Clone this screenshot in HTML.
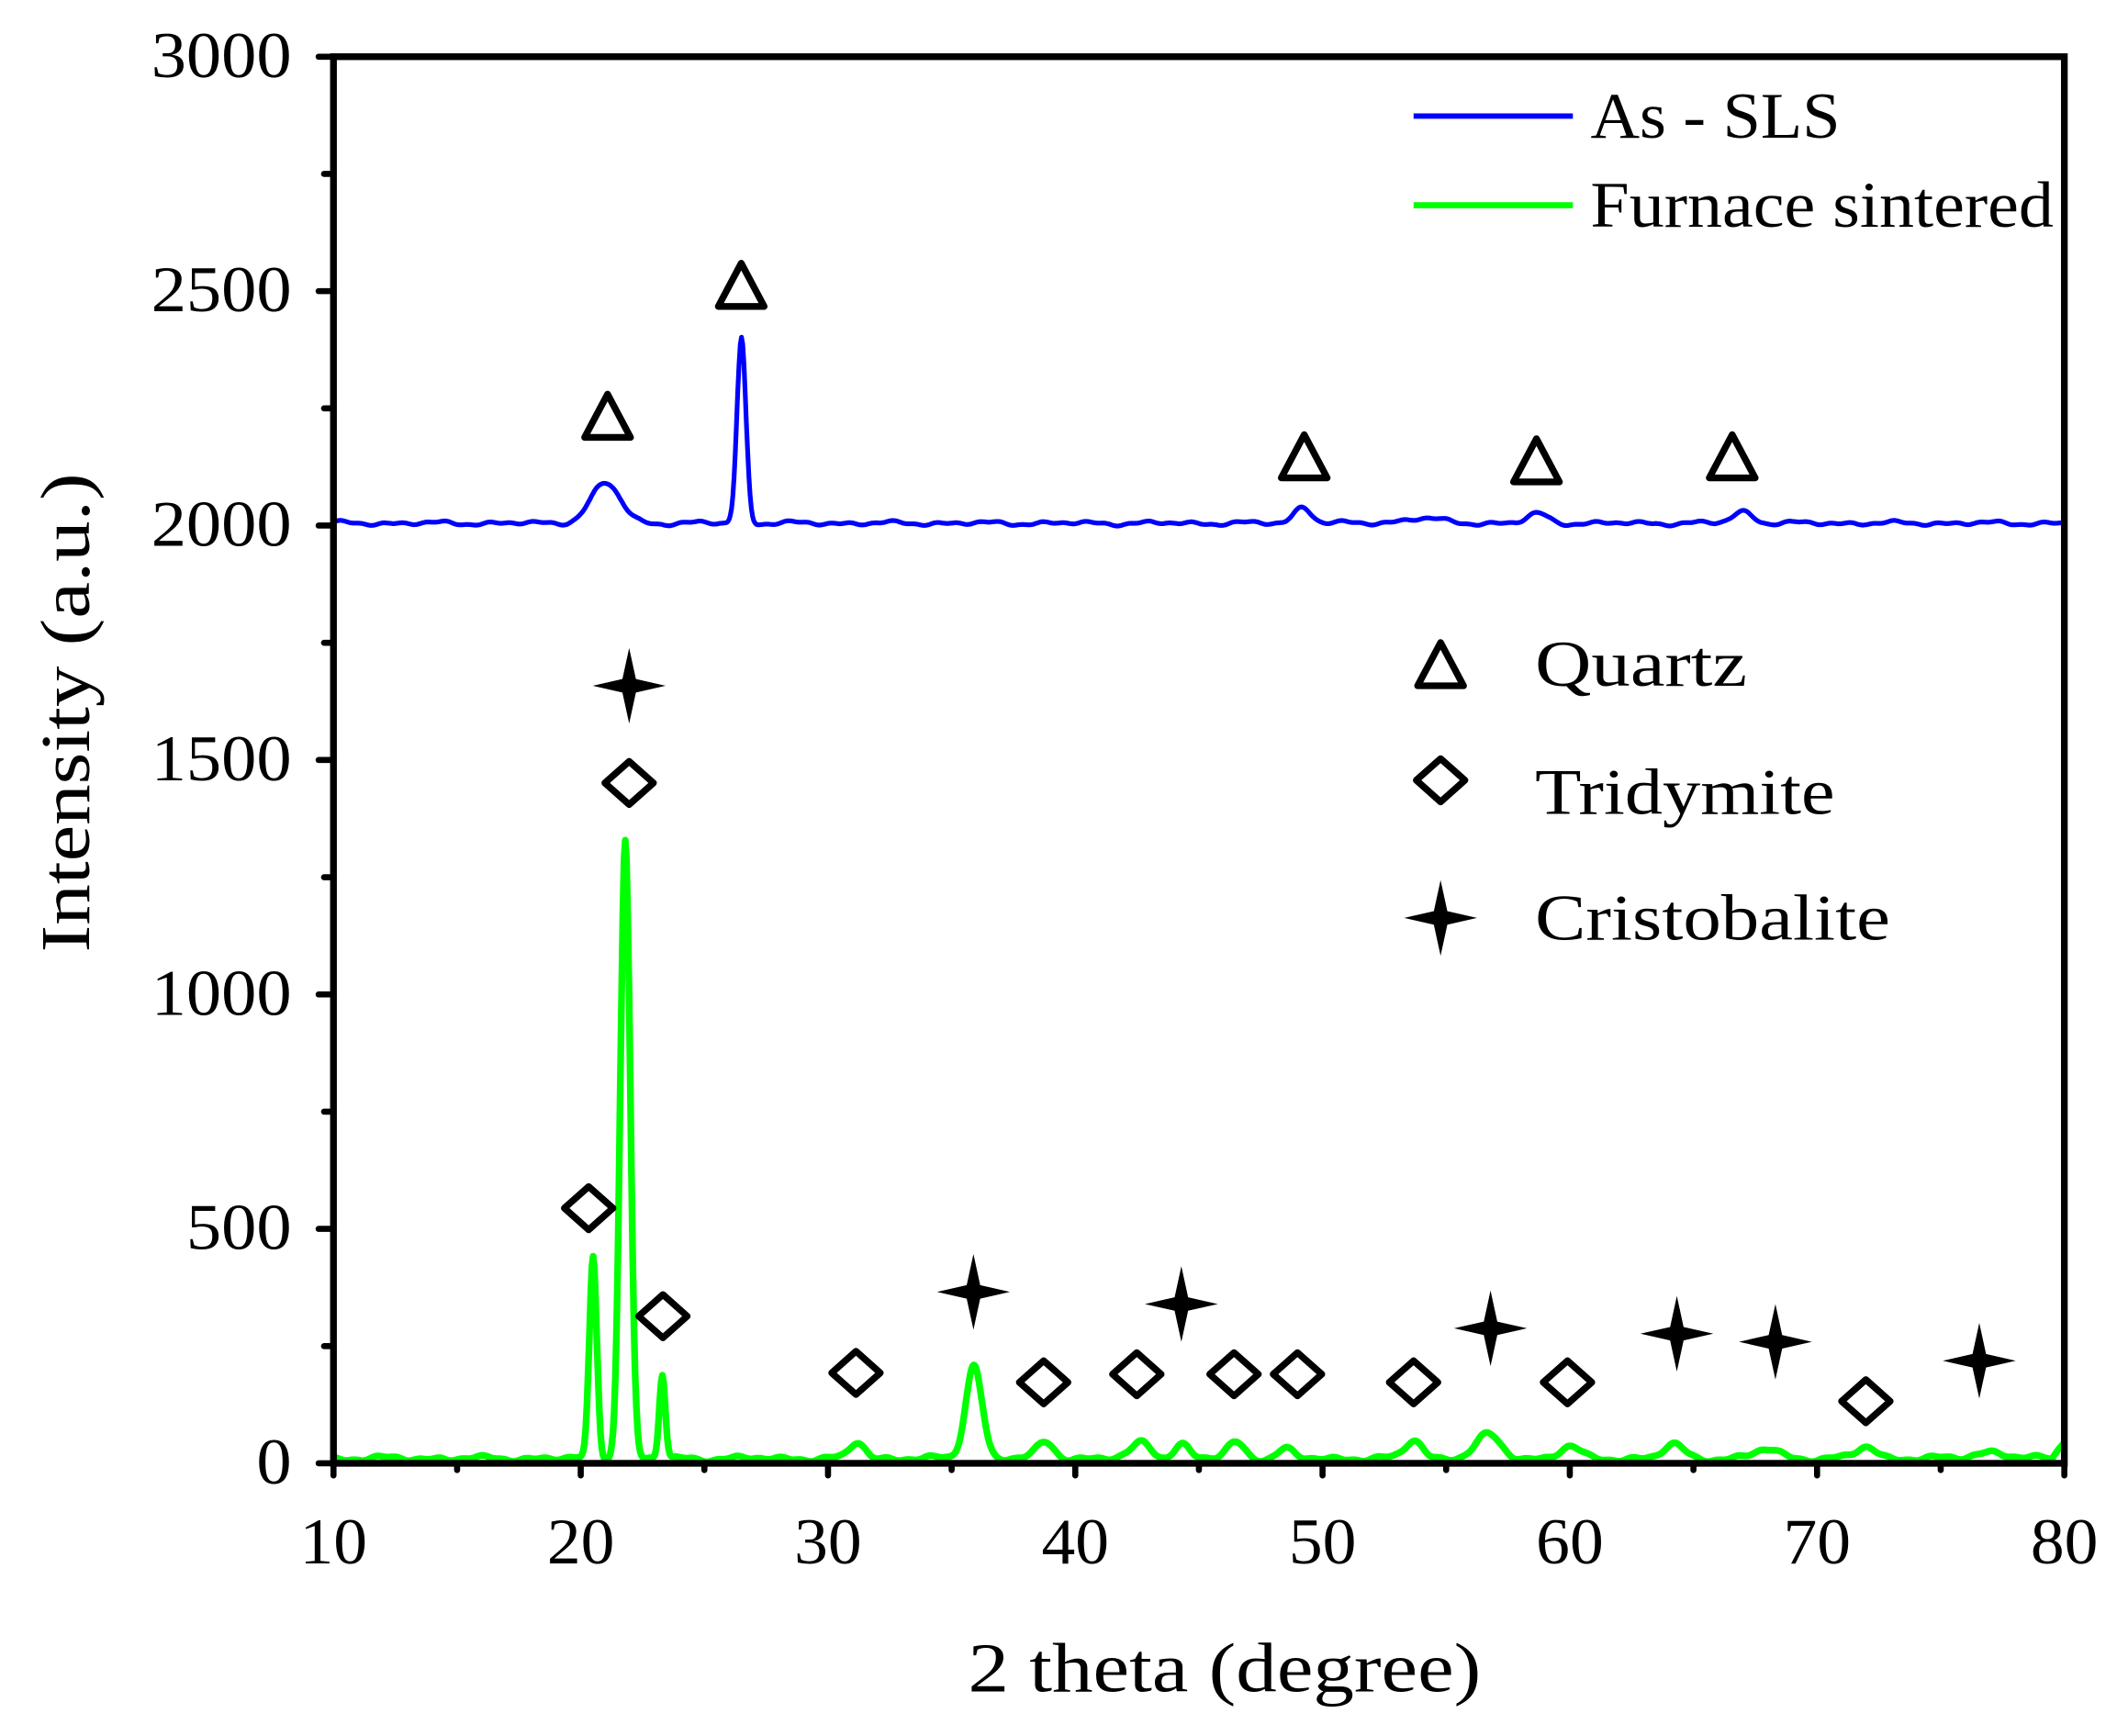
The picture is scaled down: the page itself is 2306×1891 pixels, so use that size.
<!DOCTYPE html>
<html><head><meta charset="utf-8"><style>
html,body{margin:0;padding:0;background:#fff;}
svg{display:block;}
text{font-family:"Liberation Serif",serif;fill:#000;}
</style></head><body>
<svg id="s" width="2306" height="1891" viewBox="0 0 1568 1286" preserveAspectRatio="none" xmlns="http://www.w3.org/2000/svg">
<rect width="1568" height="1286" fill="#fff"/>
<path id="blue" d="" fill="none" stroke="#0000ff" stroke-width="3.5" stroke-linejoin="round"/>
<path id="green" d="" fill="none" stroke="#00ff00" stroke-width="5" stroke-linejoin="round"/>
<rect x="247" y="42" width="1282" height="1042" fill="none" stroke="#000" stroke-width="5"/>
<g id="ticks" stroke="#000" stroke-width="4.5" stroke-linecap="round"></g>
<g font-size="48" text-anchor="end" id="ylab"></g>
<g font-size="48" text-anchor="middle" id="xlab"></g>
<text x="907" y="1253" font-size="52" text-anchor="middle" textLength="380" lengthAdjust="spacingAndGlyphs">2 theta (degree)</text>
<text transform="translate(66,528) rotate(-90)" font-size="52" text-anchor="middle" textLength="355" lengthAdjust="spacingAndGlyphs">Intensity (a.u.)</text>
<line x1="1047" y1="86" x2="1165" y2="86" stroke="#0000ff" stroke-width="4"/>
<line x1="1047" y1="152" x2="1165" y2="152" stroke="#00ff00" stroke-width="4.5"/>
<text x="1178" y="102" font-size="48" textLength="185" lengthAdjust="spacingAndGlyphs">As - SLS</text>
<text x="1178" y="168" font-size="48" textLength="343" lengthAdjust="spacingAndGlyphs">Furnace sintered</text>
<text x="1137" y="508" font-size="48" textLength="157" lengthAdjust="spacingAndGlyphs">Quartz</text>
<text x="1137" y="603" font-size="48" textLength="222" lengthAdjust="spacingAndGlyphs">Tridymite</text>
<text x="1137" y="696" font-size="48" textLength="263" lengthAdjust="spacingAndGlyphs">Cristobalite</text>
<g id="marks"></g>
</svg>
<script>
var X=function(d){return 247+(d-10)*(1282/70);};
var Y=function(v){return 1084-v*(1042/3000);};
function g(x,c,w,a){return a*Math.exp(-0.5*Math.pow((x-c)/w,2));}
function noise(x,s){return Math.sin(x*3.1+s)*0.5+Math.sin(x*7.3+s*2)*0.3+Math.sin(x*1.7+s*3)*0.4;}
var b="",gr="";
for(var x=10;x<=80.001;x+=0.05){
 var vb=2005+5*noise(x,1)+g(x,21,0.6,85)+g(x,26.5,0.18,395)+g(x,49.2,0.35,35)+g(x,58.7,0.4,20)+g(x,67,0.4,25)+g(x,54,0.8,10);
 var vg=10+6*noise(x,2)+g(x,20.5,0.15,430)+g(x,21.8,0.2,1320)+g(x,23.3,0.12,180)+g(x,35.9,0.33,200)
  +g(x,31.2,0.3,35)+g(x,38.8,0.35,35)+g(x,42.7,0.4,35)+g(x,44.3,0.3,30)+g(x,46.5,0.35,35)+g(x,48.5,0.3,20)
  +g(x,53.7,0.35,40)+g(x,56.7,0.5,50)+g(x,60,0.4,25)+g(x,64.2,0.4,30)+g(x,68,0.5,20)+g(x,72,0.4,25)+g(x,77,0.6,15)+(x>79.5?(x-79.5)*80:0);
 if(vg<0)vg=0;
 b+=(b?"L":"M")+X(x).toFixed(1)+" "+Y(vb).toFixed(1);
 gr+=(gr?"L":"M")+X(x).toFixed(1)+" "+Y(vg).toFixed(1);
}
document.getElementById("blue").setAttribute("d",b);
document.getElementById("green").setAttribute("d",gr);
var t="";
for(var d=10;d<=80;d+=5){var xx=X(d);t+='<line x1="'+xx+'" y1="1084" x2="'+xx+'" y2="'+(d%10==0?1093:1089)+'"/>';}
for(var v=0;v<=3000;v+=250){var yy=Y(v);t+='<line x1="247" y1="'+yy+'" x2="'+(v%500==0?236:240)+'" y2="'+yy+'"/>';}
document.getElementById("ticks").innerHTML=t;
var yl="";for(var v=0;v<=3000;v+=500){var s=String(v);yl+='<text x="216" y="'+(Y(v)+15)+'" textLength="'+(s.length*26)+'" lengthAdjust="spacingAndGlyphs">'+s+'</text>';}
document.getElementById("ylab").innerHTML=yl;
var xl="";for(var d=10;d<=80;d+=10){xl+='<text x="'+X(d)+'" y="1158" textLength="50" lengthAdjust="spacingAndGlyphs">'+d+'</text>';}
document.getElementById("xlab").innerHTML=xl;
var m="";
function tri(x,y){m+='<path d="M'+x+' '+(y-18)+'L'+(x+17)+' '+(y+14)+'L'+(x-17)+' '+(y+14)+'Z" fill="none" stroke="#000" stroke-width="5" stroke-linejoin="round"/>';}
function dia(x,y){m+='<path d="M'+x+' '+(y-16)+'L'+(x+18)+' '+y+'L'+x+' '+(y+16)+'L'+(x-18)+' '+y+'Z" fill="none" stroke="#000" stroke-width="5" stroke-linejoin="round"/>';}
function star(x,y){m+='<path d="M'+x+' '+(y-28)+'L'+(x+5)+' '+(y-5)+'L'+(x+27)+' '+y+'L'+(x+5)+' '+(y+5)+'L'+x+' '+(y+28)+'L'+(x-5)+' '+(y+5)+'L'+(x-27)+' '+y+'L'+(x-5)+' '+(y-5)+'Z" fill="#000"/>';}
[[450,310],[549,213],[966,340],[1138,343],[1283,340],[1067,494]].forEach(function(p){tri(p[0],p[1]);});
[[466,580],[436,895],[491,975],[634,1017],[773,1024],[842,1018],[914,1018],[961,1018],[1047,1024],[1161,1024],[1382,1038],[1067,578]].forEach(function(p){dia(p[0],p[1]);});
[[466,508],[721,957],[875,966],[1104,984],[1242,988],[1315,994],[1466,1008],[1067,680]].forEach(function(p){star(p[0],p[1]);});
document.getElementById("marks").innerHTML=m;
</script>
</body></html>
